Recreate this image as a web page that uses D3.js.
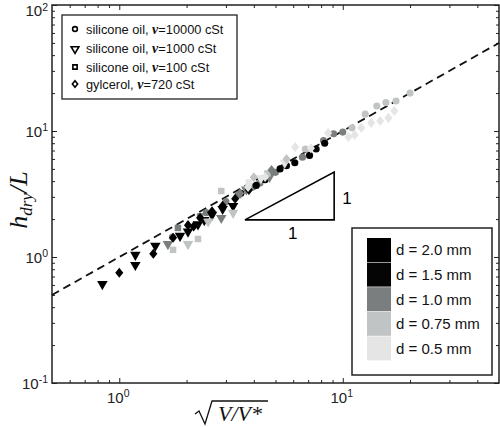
<!DOCTYPE html>
<html><head><meta charset="utf-8">
<script src="https://cdn.jsdelivr.net/npm/d3@7"></script>
<style>
html,body{margin:0;padding:0;background:#fff;}
svg{display:block;}
</style></head>
<body>
<svg id="chart" width="500" height="427"></svg>
<script>
// ---------------- data ----------------
const diameters = [2.0, 1.5, 1.0, 0.75, 0.5];
const diameterLabels = ["d = 2.0 mm", "d = 1.5 mm", "d = 1.0 mm", "d = 0.75 mm", "d = 0.5 mm"];
const diameterColors = ["#000000", "#050505", "#7a7e7f", "#c1c4c4", "#e5e5e5"];

const fluids = ["silicone oil,", "silicone oil,", "silicone oil,", "gylcerol, "];
const fluidNu = ["=10000 cSt", "=1000 cSt", "=100 cSt", "=720 cSt"];
const fluidShapes = ["circle", "triangle", "square", "diamond"];

// [diameter, sqrt(V/V*), h_dry/L]
const oil10000 = [
  [1.0, 1.73, 1.44], [1.0, 2.45, 2.25], [1.0, 3.0, 2.75], [1.0, 3.96, 3.59],
  [1.0, 4.26, 3.86], [1.0, 5.0, 4.7], [1.0, 6.6, 6.2], [1.0, 8.2, 8.4],
  [1.0, 9.1, 9.5], [1.0, 10.0, 9.8],
  [2.0, 3.5, 3.2], [2.0, 4.1, 3.7], [2.0, 4.49, 4.1], [2.0, 5.24, 5.0],
  [2.0, 6.1, 5.6], [2.0, 7.1, 6.4], [2.0, 8.3, 8.0],
  [1.5, 5.6, 5.3], [1.5, 7.6, 7.2],
  [0.75, 6.8, 7.2], [0.75, 11.0, 10.6], [0.75, 12.6, 13.6], [0.75, 14.2, 15.8],
  [0.75, 15.6, 16.8], [0.75, 17.3, 17.3], [0.75, 20.0, 20.0]
];
const oil1000 = [
  [2.0, 0.84, 0.62], [2.0, 1.18, 0.88], [2.0, 1.18, 1.06], [2.0, 1.45, 1.25],
  [2.0, 1.87, 1.50], [2.0, 2.03, 1.62], [2.0, 2.25, 1.85], [2.0, 2.6, 2.2],
  [2.0, 3.23, 2.59],
  [1.5, 2.4, 2.0], [1.5, 2.9, 2.45],
  [1.0, 1.65, 1.29], [1.0, 2.86, 2.08], [1.0, 3.7, 3.5], [1.0, 4.7, 4.4],
  [0.75, 2.03, 1.29], [0.75, 3.23, 2.28], [0.75, 2.5, 1.95],
  [0.5, 4.3, 4.3], [0.5, 5.5, 5.7]
];
const oil100 = [
  [0.75, 1.74, 1.14], [0.75, 2.25, 1.39], [0.75, 2.86, 3.34], [0.75, 4.6, 4.6],
  [1.0, 1.83, 1.70], [1.0, 2.3, 2.1], [1.0, 3.4, 3.1],
  [0.5, 3.8, 3.9]
];
const glycerol = [
  [2.0, 1.0, 0.75], [2.0, 1.42, 1.06], [2.0, 1.74, 1.42], [2.0, 2.03, 1.79],
  [2.0, 2.15, 1.75], [2.0, 2.3, 2.05], [2.0, 2.6, 2.3], [2.0, 2.9, 2.55],
  [1.5, 3.3, 2.9], [1.5, 3.8, 3.4],
  [1.0, 3.47, 3.2], [1.0, 4.8, 4.9],
  [0.75, 4.0, 4.3], [0.75, 5.6, 6.0],
  [0.5, 3.77, 3.59], [0.5, 4.49, 4.31], [0.5, 6.12, 7.46], [0.5, 7.2, 7.3],
  [0.5, 8.6, 9.64], [0.5, 10.6, 8.96], [0.5, 11.3, 9.3], [0.5, 12.1, 10.6],
  [0.5, 13.4, 11.6], [0.5, 14.7, 12.0], [0.5, 16.0, 12.7], [0.5, 17.0, 14.4]
];
const series = [oil10000, oil1000, oil100, glycerol];

const fitLine = [[0.5, 0.5], [50, 50]];
const slopeTriangle = [[3.65, 1.97], [9.15, 4.73], [9.15, 1.97]];

const xDomain = [0.5, 50];
const yDomain = [0.1, 100];
const xMajorTicks = [1, 10];
const xMajorLabels = ["0", "1"];
const xMinorTicks = [0.6, 0.7, 0.8, 0.9, 2, 3, 4, 5, 6, 7, 8, 9, 20, 30, 40];
const yMajorTicks = [0.1, 1, 10, 100];
const yMajorLabels = ["-1", "0", "1", "2"];
const yMinorTicks = [0.2,0.3,0.4,0.5,0.6,0.7,0.8,0.9,2,3,4,5,6,7,8,9,20,30,40,50,60,70,80,90];

// ---------------- drawing ----------------
const svg = d3.select("#chart");
const L = 52, R = 499, T = 5, B = 383;
const x = d3.scaleLog().domain(xDomain).range([L, R]);
const y = d3.scaleLog().domain(yDomain).range([B, T]);
const color = d3.scaleOrdinal().domain(diameters).range(diameterColors);

const axisCol = "#222";
function axis(gen, transform, ticks, size) {
  const g = svg.append("g").attr("transform", transform)
    .call(gen.tickValues(ticks).tickSize(size).tickFormat(""));
  g.select(".domain").remove();
  g.selectAll(".tick line").attr("stroke", axisCol).attr("stroke-width", 1);
  return g;
}
// inward ticks on all four sides
axis(d3.axisBottom(x), `translate(0,${B})`, xMajorTicks, -5);
axis(d3.axisBottom(x), `translate(0,${B})`, xMinorTicks, -3);
axis(d3.axisTop(x), `translate(0,${T})`, xMajorTicks, -5);
axis(d3.axisTop(x), `translate(0,${T})`, xMinorTicks, -3);
axis(d3.axisLeft(y), `translate(${L},0)`, yMajorTicks, -5);
axis(d3.axisLeft(y), `translate(${L},0)`, yMinorTicks, -3);
axis(d3.axisRight(y), `translate(${R},0)`, yMajorTicks, -5);
axis(d3.axisRight(y), `translate(${R},0)`, yMinorTicks, -3);

svg.append("rect").attr("x", L).attr("y", T).attr("width", R - L).attr("height", B - T)
  .attr("fill", "none").attr("stroke", axisCol).attr("stroke-width", 1.5);

// tick labels
const sans = "'Liberation Sans', Arial, Helvetica, sans-serif";
xMajorTicks.forEach((v, i) => {
  const t = svg.append("text").attr("x", x(v) - 1).attr("y", 403)
    .attr("text-anchor", "middle").attr("font-family", sans).attr("font-size", 15).attr("fill", "#222");
  t.append("tspan").text("10");
  t.append("tspan").attr("dy", -6).attr("font-size", 10.5).text(xMajorLabels[i]);
});
yMajorTicks.forEach((v, i) => {
  const base = Math.max(y(v) + 6, 16);
  const t = svg.append("text").attr("x", 48).attr("y", base)
    .attr("text-anchor", "end").attr("font-family", sans).attr("font-size", 15).attr("fill", "#222");
  t.append("tspan").text("10");
  t.append("tspan").attr("dy", base === 16 ? -5.5 : -6).attr("font-size", 10.5).text(yMajorLabels[i]);
});

// axis titles
const serif = "'Liberation Serif', 'Times New Roman', serif";
const yl = svg.append("text").attr("transform", "translate(27,200) rotate(-90)")
  .attr("text-anchor", "middle").attr("font-family", serif).attr("font-style", "italic")
  .attr("font-size", 26).attr("fill", "#111");
yl.append("tspan").text("h");
yl.append("tspan").attr("dy", 5).attr("font-size", 17).text("dry");
yl.append("tspan").attr("dy", -5).text("/L");

const xl = svg.append("g");
xl.append("path").attr("d", "M195,414 L199,411 L205,424 L212,401 L268,401")
  .attr("fill", "none").attr("stroke", "#111").attr("stroke-width", 1.3);
xl.append("text").attr("x", 240).attr("y", 421).attr("text-anchor", "middle")
  .attr("font-family", serif).attr("font-style", "italic").attr("font-size", 22).attr("fill", "#111")
  .text("V/V*");

// fit line
svg.append("path").datum(fitLine)
  .attr("d", d3.line().x(d => x(d[0])).y(d => y(d[1])))
  .attr("fill", "none").attr("stroke", "#111").attr("stroke-width", 1.8)
  .attr("stroke-dasharray", "8,5");

// symbols
const wideDiamond = {
  draw(ctx, size) {
    const h = Math.sqrt(size) * 0.78, w = h * 0.8;
    ctx.moveTo(0, -h); ctx.lineTo(w, 0); ctx.lineTo(0, h); ctx.lineTo(-w, 0); ctx.closePath();
  }
};
const symType = {circle: d3.symbolCircle, triangle: d3.symbolTriangle, square: d3.symbolSquare, diamond: wideDiamond};
const symSize = {circle: 40, triangle: 48, square: 42, diamond: 42};
const rot = {circle: 0, triangle: 180, square: 0, diamond: 0};
series.forEach((data, si) => {
  const shp = fluidShapes[si];
  svg.append("g").selectAll("path").data(data).join("path")
    .attr("d", d3.symbol().type(symType[shp]).size(symSize[shp]))
    .attr("transform", d => `translate(${x(d[1])},${y(d[2]) + (shp === "triangle" ? 1 : 0)}) rotate(${rot[shp]})`)
    .attr("fill", d => color(d[0]));
});

// slope triangle
svg.append("path").datum(slopeTriangle)
  .attr("d", d3.line().x(d => x(d[0])).y(d => y(d[1])).curve(d3.curveLinearClosed))
  .attr("fill", "none").attr("stroke", "#000").attr("stroke-width", 1.6);
svg.append("text").attr("x", x(slopeTriangle[1][0]) + 8).attr("y", 204)
  .attr("font-family", sans).attr("font-size", 17).text("1");
svg.append("text").attr("x", 288).attr("y", 239)
  .attr("font-family", sans).attr("font-size", 17).text("1");

// legend 1 (fluids)
const lg1 = svg.append("g");
lg1.append("rect").attr("x", 62).attr("y", 15).attr("width", 175).attr("height", 84)
  .attr("fill", "#fff").attr("stroke", "#222").attr("stroke-width", 1.3);
const lgY = [29, 48, 67, 84];
fluids.forEach((f, i) => {
  const shp = fluidShapes[i];
  lg1.append("path")
    .attr("d", d3.symbol().type(symType[shp]).size(shp === "triangle" ? 26 : 18)())
    .attr("transform", `translate(75,${lgY[i] + (shp === "triangle" ? 1 : 0)}) rotate(${rot[shp]})`)
    .attr("fill", "none").attr("stroke", "#000").attr("stroke-width", 1.6);
  const t = lg1.append("text").attr("x", 86).attr("y", lgY[i] + 4.5)
    .attr("font-family", sans).attr("font-size", 12.8).attr("fill", "#111");
  t.append("tspan").text(f);
  t.append("tspan").attr("font-family", serif).attr("font-style", "italic").attr("font-weight", "bold")
    .attr("font-size", 14).text(" ν");
  t.append("tspan").text(fluidNu[i]);
});

// legend 2 (diameters)
const lg2 = svg.append("g");
lg2.append("rect").attr("x", 352).attr("y", 228).attr("width", 140).attr("height", 147)
  .attr("fill", "#fff").attr("stroke", "#222").attr("stroke-width", 1.5);
const rowH = 24.6;
diameters.forEach((d, i) => {
  lg2.append("rect").attr("x", 367).attr("y", 238 + i * rowH).attr("width", 24).attr("height", rowH - 0.6)
    .attr("fill", color(d));
  lg2.append("text").attr("x", 396).attr("y", 238 + i * rowH + rowH / 2 + 5)
    .attr("font-family", sans).attr("font-size", 15).attr("fill", "#111").text(diameterLabels[i]);
});
</script>
</body></html>
